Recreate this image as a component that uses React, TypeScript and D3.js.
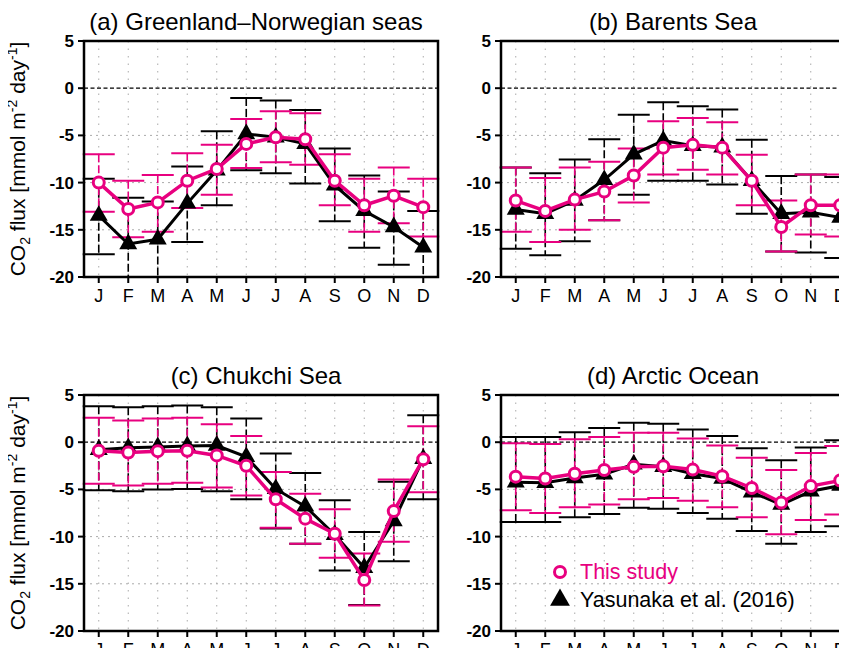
import React, { useEffect, useRef } from "react";
import * as d3 from "d3";

const months = ["J", "F", "M", "A", "M", "J", "J", "A", "S", "O", "N", "D"];
const yTicks = [5, 0, -5, -10, -15, -20];

const titles = ["(a) Greenland\u2013Norwegian seas", "(b) Barents Sea", "(c) Chukchi Sea", "(d) Arctic Ocean"];

// This study (pink): mean, upper, lower
const pinkA = [-10, -12.8, -12.1, -9.8, -8.55, -5.9, -5.2, -5.4, -9.8, -12.4, -11.4, -12.6];
const pinkAHi = [-7, -9.8, -9.2, -6.9, -6, -3.25, -2.45, -2.65, -7, -9.6, -8.4, -9.6];
const pinkALo = [-13.1, -15.8, -15.2, -12.7, -11.3, -8.45, -7.85, -8.1, -12.4, -15.2, -14.3, -15.7];
const blackA = [-13.5, -16.5, -16, -12.2, -8.7, -4.85, -5.2, -5.9, -10.3, -13, -14.7, -16.85];
const blackAHi = [-9.6, -11.6, -12, -8.3, -4.55, -1.05, -1.3, -2.3, -6.4, -9.25, -10.95, -13];
const blackALo = [-17.6, -21.4, -20, -16.3, -12.4, -8.7, -9, -10.1, -14.1, -16.9, -18.7, -20.7];

const pinkB = [-11.9, -13, -11.8, -10.95, -9.25, -6.3, -6, -6.3, -9.8, -14.7, -12.4, -12.4];
const pinkBHi = [-8.4, -9.5, -8.4, -7.8, -6.4, -3.5, -3.15, -3.6, -7.05, -11.9, -9.15, -9.15];
const pinkBLo = [-15.2, -16.3, -15, -14, -12.1, -9.15, -8.65, -9.15, -12.4, -17.3, -15.5, -15.7];
const blackB = [-12.85, -13.3, -11.9, -9.7, -7, -5.55, -6.1, -6.25, -9.8, -13.3, -13.15, -13.7];
const blackBHi = [-8.4, -9, -7.55, -5.4, -2.8, -1.5, -1.9, -2.25, -5.45, -9.3, -9.15, -9.4];
const blackBLo = [-17, -17.7, -16.2, -14, -11.3, -9.8, -9.8, -10.2, -13.3, -17.3, -17.4, -18];

const pinkC = [-0.9, -1.1, -0.95, -0.9, -1.4, -2.5, -6.05, -8.1, -9.7, -14.6, -7.3, -1.8];
const pinkCHi = [2.6, 2.3, 2.5, 2.6, 1.9, 0.65, -3.15, -5.45, -7.1, -11.8, -3.95, 1.7];
const pinkCLo = [-4.4, -4.6, -4.4, -4.3, -4.8, -5.65, -9.05, -10.75, -12.25, -17.3, -10.55, -5.3];
const blackC = [-0.8, -0.6, -0.5, -0.4, -0.35, -1.55, -4.95, -6.8, -9.8, -13.3, -8.35, -1.75];
const blackCHi = [3.8, 3.7, 3.8, 3.9, 3.7, 2.5, -1.2, -3.25, -6.15, -9.5, -4.2, 2.85];
const blackCLo = [-5.1, -5.2, -5, -4.95, -5.2, -6.05, -9.15, -10.75, -13.6, -17.25, -12.6, -6.05];

const pinkD = [-3.65, -3.85, -3.35, -2.95, -2.6, -2.55, -2.9, -3.6, -4.85, -6.4, -4.65, -4.05];
const pinkDHi = [-0.1, -0.2, 0.3, 0.55, 1, 1, 0.4, -0.35, -1.65, -2.95, -1.15, -0.4];
const pinkDLo = [-7.2, -7.5, -6.9, -6.6, -6.05, -5.9, -6.2, -6.9, -7.95, -9.75, -8.25, -7.65];
const blackD = [-4.25, -4.3, -3.8, -3.4, -2.35, -2.6, -3.35, -3.85, -5.3, -6.6, -5.2, -4.6];
const blackDHi = [0.55, 0.55, 1.05, 1.5, 2.05, 1.95, 1.35, 0.65, -0.65, -1.9, -0.55, 0.2];
const blackDLo = [-8.45, -8.45, -7.95, -7.6, -6.95, -7.05, -7.5, -8.1, -9.4, -10.75, -9.5, -8.9];

const panels = [
  { x: 84, y: 41, pink: [pinkA, pinkAHi, pinkALo], black: [blackA, blackAHi, blackALo] },
  { x: 501, y: 41, pink: [pinkB, pinkBHi, pinkBLo], black: [blackB, blackBHi, blackBLo] },
  { x: 84, y: 395, pink: [pinkC, pinkCHi, pinkCLo], black: [blackC, blackCHi, blackCLo] },
  { x: 501, y: 395, pink: [pinkD, pinkDHi, pinkDLo], black: [blackD, blackDHi, blackDLo] },
];

const PINK = "#e8007f";
const FONT = "Liberation Sans, Arial, sans-serif";

export default function App() {
  const ref = useRef<SVGSVGElement | null>(null);

  useEffect(() => {
    const svg = d3.select(ref.current);
    svg.selectAll("*").remove();
    const W = 354;
    const H = 236;

    const defs = svg.append("defs");
    panels.forEach((p, pi) => {
      defs.append("clipPath").attr("id", `clip${pi}`)
        .append("rect").attr("x", -10).attr("y", 0).attr("width", W + 20).attr("height", H);
    });

    panels.forEach((p, pi) => {
      const g = svg.append("g").attr("transform", `translate(${p.x},${p.y})`);
      const x = d3.scaleBand<number>().domain(d3.range(12)).range([0, W]);
      const cx = (i: number) => x(i)! + x.bandwidth() / 2;
      const y = d3.scaleLinear().domain([-20, 5]).range([H, 0]);

      // grid
      g.append("g").selectAll("line").data(d3.range(12)).join("line")
        .attr("x1", cx).attr("x2", cx).attr("y1", 0).attr("y2", H)
        .attr("stroke", "#aaa").attr("stroke-dasharray", "1.5,6");
      g.append("g").selectAll("line").data([-5, -10, -15]).join("line")
        .attr("x1", 0).attr("x2", W).attr("y1", y).attr("y2", y)
        .attr("stroke", "#aaa").attr("stroke-dasharray", "2,4");
      g.append("line").attr("x1", 0).attr("x2", W).attr("y1", y(0)).attr("y2", y(0))
        .attr("stroke", "#000").attr("stroke-width", 1.3).attr("stroke-dasharray", "4,2.5");

      const data = g.append("g").attr("clip-path", `url(#clip${pi})`);
      const drawErr = (vals: number[][], color: string) => {
        const [, hi, lo] = vals;
        d3.range(12).forEach((i) => {
          data.append("line").attr("x1", cx(i)).attr("x2", cx(i))
            .attr("y1", y(hi[i])).attr("y2", y(lo[i]))
            .attr("stroke", color).attr("stroke-width", 1.6).attr("stroke-dasharray", "8,3");
          [hi[i], lo[i]].forEach((v) => {
            data.append("line").attr("x1", cx(i) - 16).attr("x2", cx(i) + 16)
              .attr("y1", y(v)).attr("y2", y(v)).attr("stroke", color).attr("stroke-width", 2);
          });
        });
      };
      drawErr(p.black, "#000");
      drawErr(p.pink, PINK);

      const line = d3.line<number>().x((_, i) => cx(i)).y((d) => y(d));
      data.append("path").attr("d", line(p.black[0])!).attr("fill", "none")
        .attr("stroke", "#000").attr("stroke-width", 3);
      data.selectAll("path.tri").data(p.black[0]).join("path").attr("class", "tri")
        .attr("transform", (d, i) => `translate(${cx(i)},${y(d)})`)
        .attr("d", d3.symbol(d3.symbolTriangle, 140)()!).attr("fill", "#000");
      data.append("path").attr("d", line(p.pink[0])!).attr("fill", "none")
        .attr("stroke", PINK).attr("stroke-width", 3.5);
      data.selectAll("circle").data(p.pink[0]).join("circle")
        .attr("cx", (_, i) => cx(i)).attr("cy", (d) => y(d)).attr("r", 5.5)
        .attr("fill", "#fff").attr("stroke", PINK).attr("stroke-width", 3);

      // frame
      g.append("rect").attr("width", W).attr("height", H).attr("fill", "none")
        .attr("stroke", "#000").attr("stroke-width", 2.5);

      // ticks
      g.append("g").selectAll("line").data(yTicks).join("line")
        .attr("x1", -6).attr("x2", 0).attr("y1", y).attr("y2", y).attr("stroke", "#000").attr("stroke-width", 2);
      g.append("g").selectAll("text").data(yTicks).join("text")
        .attr("x", -10).attr("y", (d) => y(d) + 6).attr("text-anchor", "end")
        .attr("font-family", FONT).attr("font-size", 17).attr("font-weight", "bold")
        .text((d) => `${d}`);
      g.append("g").selectAll("line").data(d3.range(12)).join("line")
        .attr("x1", cx).attr("x2", cx).attr("y1", H).attr("y2", H + 6).attr("stroke", "#000").attr("stroke-width", 2);
      g.append("g").selectAll("text").data(months).join("text")
        .attr("x", (_, i) => cx(i)).attr("y", H + 25).attr("text-anchor", "middle")
        .attr("font-family", FONT).attr("font-size", 18).text((d) => d);

      g.append("text").attr("x", W / 2 - 5).attr("y", -11).attr("text-anchor", "middle")
        .attr("font-family", FONT).attr("font-size", 24).text(titles[pi]);

      if (pi % 2 === 0) {
        const t = g.append("text").attr("transform", `translate(-59,${H / 2}) rotate(-90)`)
          .attr("text-anchor", "middle").attr("font-family", FONT).attr("font-size", 21);
        t.append("tspan").text("CO");
        t.append("tspan").attr("font-size", 14).attr("dy", 5).text("2");
        t.append("tspan").attr("dy", -5).text(" flux [mmol m");
        t.append("tspan").attr("font-size", 14).attr("dy", -8).text("-2");
        t.append("tspan").attr("dy", 8).text(" day");
        t.append("tspan").attr("font-size", 14).attr("dy", -8).text("-1");
        t.append("tspan").attr("dy", 8).text("]");
      }

      if (pi === 3) {
        const lg = g.append("g");
        lg.append("circle").attr("cx", 59).attr("cy", 177).attr("r", 5.5)
          .attr("fill", "#fff").attr("stroke", PINK).attr("stroke-width", 3);
        lg.append("text").attr("x", 79).attr("y", 184).attr("font-family", FONT)
          .attr("font-size", 21.5).attr("fill", PINK).text("This study");
        lg.append("path").attr("transform", "translate(59,205)")
          .attr("d", d3.symbol(d3.symbolTriangle, 170)()!).attr("fill", "#000");
        lg.append("text").attr("x", 79).attr("y", 212).attr("font-family", FONT)
          .attr("font-size", 21.5).attr("fill", "#000").text("Yasunaka et al. (2016)");
      }
    });
  }, []);

  return <svg ref={ref} width={847} height={656} style={{ display: "block", margin: "-8px" }} />;
}
